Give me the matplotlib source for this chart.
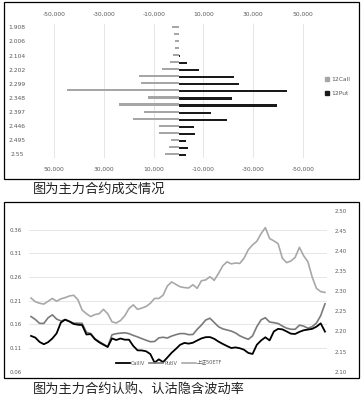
import matplotlib
matplotlib.use('Agg')
import matplotlib.pyplot as plt
from matplotlib.patches import Rectangle, Patch
from matplotlib.lines import Line2D
import numpy as np

plt.rcParams['font.family'] = ['DejaVu Sans', 'Noto Sans CJK SC']
plt.rcParams['axes.unicode_minus'] = False

# ---------------- data: top chart ----------------
strikes = ['1.908', '1.957', '2.006', '2.055', '2.104', '2.153', '2.202', '2.25',
           '2.299', '2.3', '2.348', '2.35', '2.397', '2.4', '2.446', '2.45',
           '2.495', '2.5', '2.55']
call_vol = [2500, 2000, 1600, 1600, 2300, 3300, 6600, 16000, 15100, 45000,
            12100, 24100, 13900, 18500, 7700, 7700, 3000, 3800, 5300]
put_vol = [300, 200, 300, 300, 600, 3500, 8400, 22500, 24300, 43700,
           21400, 39800, 13100, 19700, 6200, 6500, 2900, 3700, 3000]
vol_ticks = [-50000, -30000, -10000, 10000, 30000, 50000]

# ---------------- data: bottom chart ----------------
call_iv = [0.1356, 0.1320, 0.1229, 0.1180, 0.1223, 0.1301, 0.1409, 0.1638, 0.1700, 0.1661,
           0.1608, 0.1592, 0.1585, 0.1386, 0.1394, 0.1286, 0.1221, 0.1170, 0.1123, 0.1303,
           0.1269, 0.1301, 0.1276, 0.1276, 0.1144, 0.1051, 0.1049, 0.1032, 0.0973, 0.0791,
           0.0861, 0.0803, 0.0899, 0.1000, 0.1081, 0.1168, 0.1208, 0.1193, 0.1212, 0.1259,
           0.1303, 0.1329, 0.1331, 0.1295, 0.1236, 0.1187, 0.1142, 0.1100, 0.1113, 0.1096,
           0.1064, 0.0996, 0.0975, 0.1168, 0.1259, 0.1327, 0.1261, 0.1450, 0.1505, 0.1494,
           0.1450, 0.1403, 0.1397, 0.1441, 0.1475, 0.1490, 0.1505, 0.1551, 0.1621, 0.1447]
put_iv = [0.1765, 0.1704, 0.1621, 0.1619, 0.1738, 0.1801, 0.1712, 0.1672, 0.1697, 0.1664,
          0.1625, 0.1625, 0.1621, 0.1433, 0.1405, 0.1297, 0.1236, 0.1183, 0.1125, 0.1380,
          0.1403, 0.1414, 0.1422, 0.1403, 0.1367, 0.1335, 0.1299, 0.1265, 0.1233, 0.1238,
          0.1314, 0.1327, 0.1312, 0.1352, 0.1382, 0.1405, 0.1405, 0.1382, 0.1386, 0.1494,
          0.1585, 0.1691, 0.1729, 0.1640, 0.1551, 0.1505, 0.1481, 0.1458, 0.1418, 0.1358,
          0.1318, 0.1284, 0.1356, 0.1551, 0.1695, 0.1740, 0.1649, 0.1636, 0.1617, 0.1564,
          0.1519, 0.1496, 0.1496, 0.1583, 0.1562, 0.1519, 0.1551, 0.1628, 0.1784, 0.2034]
etf50 = [2.283, 2.274, 2.270, 2.268, 2.275, 2.282, 2.275, 2.281, 2.284, 2.288,
         2.290, 2.279, 2.253, 2.244, 2.237, 2.242, 2.244, 2.255, 2.244, 2.224,
         2.221, 2.227, 2.239, 2.257, 2.266, 2.255, 2.258, 2.262, 2.270, 2.282,
         2.282, 2.290, 2.313, 2.323, 2.317, 2.311, 2.309, 2.308, 2.316, 2.307,
         2.326, 2.328, 2.336, 2.327, 2.344, 2.363, 2.373, 2.368, 2.370, 2.369,
         2.382, 2.403, 2.415, 2.424, 2.443, 2.458, 2.431, 2.425, 2.418, 2.382,
         2.371, 2.375, 2.384, 2.409, 2.388, 2.373, 2.335, 2.307, 2.299, 2.297]
days = list(range(len(etf50)))
left_ticks = [0.06, 0.11, 0.16, 0.21, 0.26, 0.31, 0.36]
right_ticks = [2.10, 2.15, 2.20, 2.25, 2.30, 2.35, 2.40, 2.45, 2.50]

W, H = 362, 397
fig = plt.figure(figsize=(W / 100, H / 100), dpi=100)
fig.patch.set_facecolor('white')

tick_color = '#595959'
grid_color = '#e2e2e2'

# ---------------- top chart ----------------
ax_c = fig.add_axes([29.4 / W, 1 - 158 / H, 298.2 / W, 134.2 / H])
ypos = np.arange(len(strikes))
ax_c.barh(ypos - 0.07, call_vol, height=0.3, color='#a6a6a6', zorder=2)
ax_c.set_xlim(60000, -60000)
ax_c.set_ylim(len(strikes) - 0.5, -0.5)
ax_c.set_xticks(vol_ticks)
ax_c.set_xticklabels([f"{v:,}" for v in vol_ticks])
ax_c.set_yticks(ypos[::2])
ax_c.set_yticklabels(strikes[::2])
for lab in ax_c.get_yticklabels():
    lab.set_horizontalalignment('center')
ax_c.tick_params(axis='y', length=0, pad=9.1, labelsize=4.3, labelcolor=tick_color)
ax_c.tick_params(axis='x', length=0, pad=6, labelsize=4.3, labelcolor=tick_color)
ax_c.grid(axis='x', color=grid_color, lw=0.6, zorder=0)
ax_c.set_axisbelow(True)
for s in ax_c.spines.values():
    s.set_visible(False)

ax_p = ax_c.twiny()
ax_p.barh(ypos + 0.07, put_vol, height=0.3, color='#1a1a1a', zorder=2)
ax_p.set_xlim(-60000, 60000)
ax_p.set_xticks(vol_ticks)
ax_p.set_xticklabels([f"{v:,}" for v in vol_ticks])
ax_p.tick_params(axis='x', length=0, pad=5, labelsize=4.3, labelcolor=tick_color)
for s in ax_p.spines.values():
    s.set_visible(False)

leg1 = fig.legend(handles=[Patch(color='#a6a6a6', label='12Call'),
                           Patch(color='#1a1a1a', label='12Put')],
                  loc='upper left', bbox_to_anchor=(325 / W, 1 - 77 / H),
                  frameon=False, fontsize=4.3, handlelength=0.7, handleheight=0.7,
                  handletextpad=0.3, labelspacing=1.5, borderaxespad=0, borderpad=0,
                  labelcolor=tick_color)

fig.add_artist(Rectangle((3.5 / W, 1 - 178.5 / H), 355 / W, 176.5 / H,
                         transform=fig.transFigure, fill=False, edgecolor='black', lw=0.9))
fig.text(33 / W, 1 - 189 / H, '图为主力合约成交情况', fontsize=9.5,
         family=['Noto Sans CJK SC'], ha='left', va='center', color='#222222')

# ---------------- bottom chart ----------------
ax_l = fig.add_axes([28.9 / W, 1 - 371.7 / H, 298.2 / W, 161 / H])
l1, = ax_l.plot(days, call_iv, color='black', lw=1.3, label='CallIV', zorder=3)
l2, = ax_l.plot(days, put_iv, color='#7a7a7a', lw=1.2, label='PutIV', zorder=2)
ax_l.set_xlim(-0.5, len(days) - 0.5)
ax_l.set_ylim(0.06, 0.40)
ax_l.set_yticks(left_ticks)
ax_l.set_yticklabels([f"{v:.2f}" for v in left_ticks])
ax_l.set_xticks([])
ax_l.grid(axis='y', color=grid_color, lw=0.6)
ax_l.set_axisbelow(True)
ax_l.tick_params(axis='y', length=0, pad=5, labelsize=4, labelcolor=tick_color)
for s in ax_l.spines.values():
    s.set_visible(False)

ax_r = ax_l.twinx()
l3, = ax_r.plot(days, etf50, color='#a8a8a8', lw=1.2, label='上证50ETF')
ax_r.set_ylim(2.10, 2.50)
ax_r.set_yticks(right_ticks)
ax_r.set_yticklabels([f"{v:.2f}" for v in right_ticks])
ax_r.tick_params(axis='y', length=0, pad=5.7, labelsize=4, labelcolor=tick_color)
for s in ax_r.spines.values():
    s.set_visible(False)

fig.legend(handles=[l1, l2, l3], loc='center', bbox_to_anchor=(169 / W, 1 - 363 / H),
           ncol=3, frameon=False, fontsize=3.6, handlelength=2.8, handletextpad=0.3,
           columnspacing=0.8, borderaxespad=0, borderpad=0, labelcolor=tick_color)

fig.add_artist(Rectangle((3.5 / W, 1 - 378 / H), 355 / W, 176 / H,
                         transform=fig.transFigure, fill=False, edgecolor='black', lw=0.9))
fig.text(33 / W, 1 - 389 / H, '图为主力合约认购、认沽隐含波动率', fontsize=9.5,
         family=['Noto Sans CJK SC'], ha='left', va='center', color='#222222')

fig.savefig('out.png', dpi=100, facecolor='white')
